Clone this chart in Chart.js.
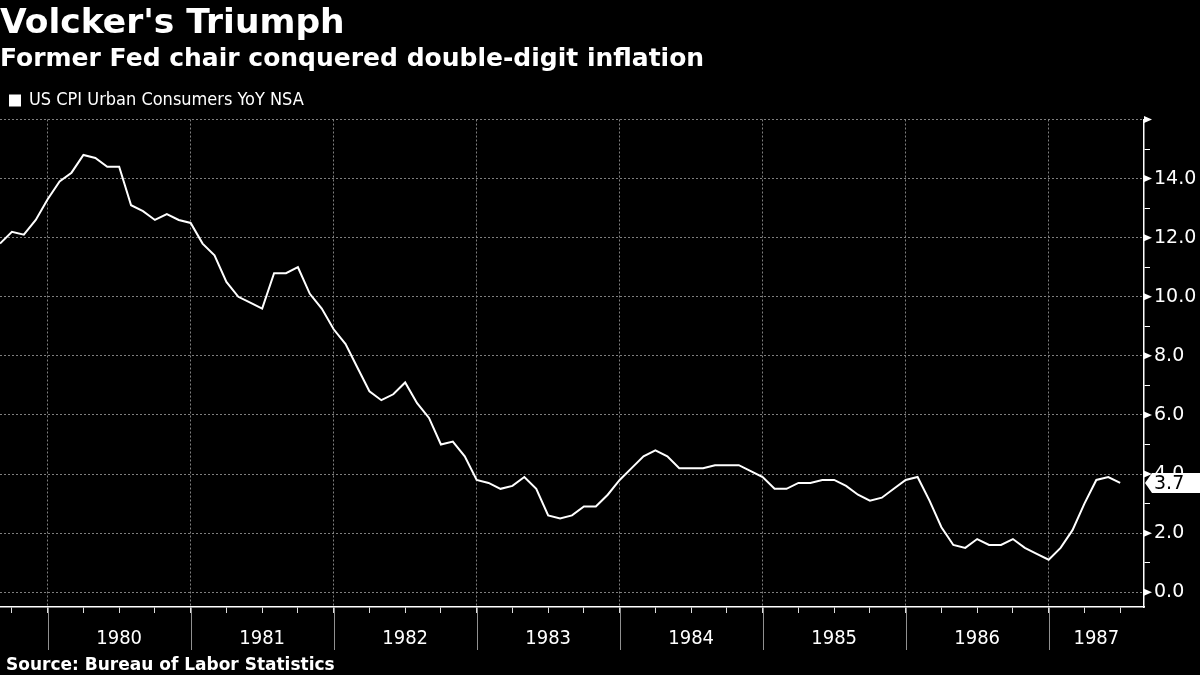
<!DOCTYPE html>
<html>
<head>
<meta charset="utf-8">
<script src="https://cdn.jsdelivr.net/npm/chart.js@4.4.1/dist/chart.umd.min.js"></script>
<style>
  html, body { margin: 0; padding: 0; background: #000; }
  #wrap { width: 1200px; height: 675px; }
</style>
</head>
<body>
<div id="wrap"><canvas id="cpi" width="1200" height="675"></canvas></div>
<script>
// monthly CPI YoY (%), Aug 1979 .. Jun 1987
const startYear = 1979;
const startMonth = 8;
const cpi = [
  11.8, 12.2, 12.1, 12.6, 13.3,
  13.9, 14.2, 14.8, 14.7, 14.4, 14.4, 13.1, 12.9, 12.6, 12.8, 12.6, 12.5,
  11.8, 11.4, 10.5, 10.0, 9.8, 9.6, 10.8, 10.8, 11.0, 10.1, 9.6, 8.9,
  8.4, 7.6, 6.8, 6.5, 6.7, 7.1, 6.4, 5.9, 5.0, 5.1, 4.6, 3.8,
  3.7, 3.5, 3.6, 3.9, 3.5, 2.6, 2.5, 2.6, 2.9, 2.9, 3.3, 3.8,
  4.2, 4.6, 4.8, 4.6, 4.2, 4.2, 4.2, 4.3, 4.3, 4.3, 4.1, 3.9,
  3.5, 3.5, 3.7, 3.7, 3.8, 3.8, 3.6, 3.3, 3.1, 3.2, 3.5, 3.8,
  3.9, 3.1, 2.2, 1.6, 1.5, 1.8, 1.6, 1.6, 1.8, 1.5, 1.3, 1.1,
  1.5, 2.1, 3.0, 3.8, 3.9, 3.7
];
const yearLabels = ["1980", "1981", "1982", "1983", "1984", "1985", "1986", "1987"];
const yTickValues = [0, 1, 2, 3, 4, 5, 6, 7, 8, 9, 10, 11, 12, 13, 14, 15, 16];
const seriesName = "US CPI Urban Consumers YoY NSA";

// month of each point (1..12) and year
const months = cpi.map((v, i) => {
  const m = startMonth - 1 + i;
  return { year: startYear + Math.floor(m / 12), month: (m % 12) + 1 };
});
const xMax = cpi.length + 1; // axis runs one month past the last point

function monthOf(idx) {
  return ((startMonth - 1 + idx) % 12) + 1;
}
const quarterIdx = [];
const yearEndIdx = [];
for (let i = 0; i <= xMax; i++) {
  const m = monthOf(i);
  if (m % 3 === 0) quarterIdx.push(i);
  if (m === 12) yearEndIdx.push(i);
}
const yearCenters = yearLabels.map((y) => {
  const yr = +y;
  const s = months.findIndex((p) => p.year === yr - 1 && p.month === 12);
  const e = months.findIndex((p) => p.year === yr && p.month === 12);
  return ((s < 0 ? 0 : s) + (e < 0 ? xMax : e)) / 2;
});

const gridColor = "rgba(140,140,140,0.9)";
const condensed = "'DejaVu Sans Condensed', 'DejaVu Sans', sans-serif";
const wide = "'DejaVu Sans', sans-serif";

const decor = {
  id: "decor",
  beforeDraw(chart) {
    const ctx = chart.ctx;
    ctx.save();
    ctx.fillStyle = "#000";
    ctx.fillRect(0, 0, chart.width, chart.height);
    ctx.restore();
  },
  afterDraw(chart) {
    const ctx = chart.ctx;
    const xs = chart.scales.x;
    const ys = chart.scales.y;
    const area = chart.chartArea;
    ctx.save();
    // long year separators under the axis
    ctx.strokeStyle = "rgba(160,160,160,0.9)";
    ctx.lineWidth = 1;
    yearEndIdx.forEach((i) => {
      const px = Math.round(xs.getPixelForValue(i)) + 0.5;
      ctx.beginPath();
      ctx.moveTo(px, area.bottom);
      ctx.lineTo(px, area.bottom + 43);
      ctx.stroke();
    });
    // arrow heads on the major ticks of the value axis
    ctx.fillStyle = "#fff";
    yTickValues.filter((v) => v % 2 === 0).forEach((v) => {
      const py = ys.getPixelForValue(v);
      ctx.beginPath();
      ctx.moveTo(area.right, py - 3.5);
      ctx.lineTo(area.right + 8, py);
      ctx.lineTo(area.right, py + 3.5);
      ctx.closePath();
      ctx.fill();
    });
    // last value tag
    const last = cpi[cpi.length - 1];
    const ty = ys.getPixelForValue(last);
    ctx.fillStyle = "#fff";
    ctx.beginPath();
    ctx.moveTo(area.right + 1, ty);
    ctx.lineTo(area.right + 8, ty - 10);
    ctx.lineTo(chart.width, ty - 10);
    ctx.lineTo(chart.width, ty + 10);
    ctx.lineTo(area.right + 8, ty + 10);
    ctx.closePath();
    ctx.fill();
    ctx.fillStyle = "#000";
    ctx.font = "19px " + wide;
    ctx.textBaseline = "middle";
    ctx.textAlign = "left";
    ctx.fillText(last.toFixed(1), area.right + 10, ty + 1);
    // source line
    ctx.fillStyle = "#fff";
    ctx.font = "bold 17px " + wide;
    ctx.textBaseline = "alphabetic";
    ctx.fillText("Source: Bureau of Labor Statistics", 6, 670);
    ctx.restore();
  }
};

new Chart(document.getElementById("cpi"), {
  type: "line",
  plugins: [decor],
  data: {
    datasets: [
      {
        label: seriesName,
        data: cpi.map((v, i) => ({ x: i, y: v })),
        borderColor: "#fff",
        backgroundColor: "#fff",
        borderWidth: 2,
        pointRadius: 0,
        tension: 0,
      },
    ],
  },
  options: {
    responsive: false,
    animation: false,
    layout: { padding: { left: 0, right: 0, top: 0, bottom: 22 } },
    plugins: {
      title: {
        display: true,
        text: "Volcker's Triumph",
        align: "start",
        color: "#fff",
        font: { family: wide, weight: "bold", size: 34.5, lineHeight: 1 },
        padding: { top: 7, bottom: 0 },
      },
      subtitle: {
        display: true,
        text: "Former Fed chair conquered double-digit inflation",
        align: "start",
        color: "#fff",
        font: { family: wide, weight: "bold", size: 25, lineHeight: 1 },
        padding: { top: 5, bottom: 10 },
      },
      legend: {
        display: true,
        align: "start",
        labels: {
          color: "#fff",
          boxWidth: 10,
          boxHeight: 10,
          padding: 10,
          font: { family: condensed, size: 18 },
        },
      },
      tooltip: { enabled: false },
    },
    scales: {
      x: {
        type: "linear",
        position: "bottom",
        min: 0,
        max: xMax,
        afterBuildTicks: (s) => {
          s.ticks = quarterIdx.map((v) => ({ value: v }));
        },
        afterFit: (s) => {
          s.height = 6;
        },
        ticks: { display: false },
        grid: {
          color: (c) => (c.tick && yearEndIdx.includes(c.tick.value) ? gridColor : "transparent"),
          tickColor: "#ddd",
          tickLength: 6,
          tickBorderDash: [],
        },
        border: { color: "#fff", width: 1.5, dash: [2, 2] },
      },
      x2: {
        type: "linear",
        position: "bottom",
        min: 0,
        max: xMax,
        afterBuildTicks: (s) => {
          s.ticks = yearCenters.map((v) => ({ value: v }));
        },
        afterFit: (s) => {
          s.height = 40;
        },
        ticks: {
          autoSkip: false,
          maxRotation: 0,
          color: "#fff",
          padding: 6,
          font: { family: condensed, size: 20 },
          callback: (v) => yearLabels[yearCenters.indexOf(v)],
        },
        grid: { display: false },
        border: { display: false },
      },
      y: {
        position: "right",
        min: -0.5,
        max: 16,
        afterBuildTicks: (s) => {
          s.ticks = yTickValues.map((v) => ({ value: v }));
        },
        afterFit: (s) => {
          s.width = 56;
        },
        ticks: {
          autoSkip: false,
          color: "#fff",
          padding: 4,
          font: { family: wide, size: 19 },
          callback: (v) => (v % 2 === 0 && v < 16 ? v.toFixed(1) : ""),
        },
        grid: {
          color: (c) => (c.tick && c.tick.value % 2 === 0 ? gridColor : "transparent"),
          tickColor: "#fff",
          tickLength: 6,
          tickBorderDash: [],
        },
        border: { color: "#fff", width: 1.5, dash: [2, 2] },
      },
    },
  },
});
</script>
</body>
</html>
